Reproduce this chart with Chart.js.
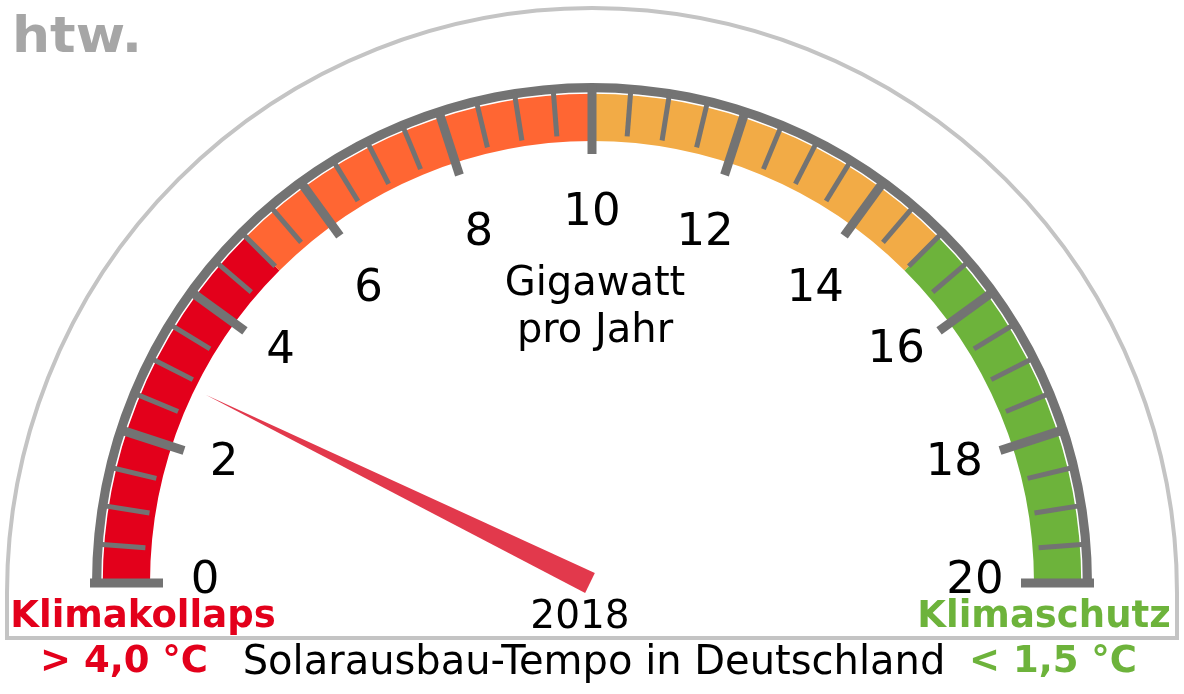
<!DOCTYPE html>
<html>
<head>
  <title>Solarausbau-Tempo in Deutschland</title>
  <script src="https://cdn.jsdelivr.net/npm/chart.js"></script>
  <style>
    body {
      margin: 0;
      background: #fff;
    }
    #gauge {
      display: block;
    }
  </style>
</head>
<body>
  <canvas id="gauge" width="1184" height="694"></canvas>

  <script>
    // scale and data
    const scaleMin = 0;
    const scaleMax = 20;
    const bandLabels = ['0-5', '5-10', '10-15', '15-20'];
    const bandValues = [5, 5, 5, 5];
    const bandColors = ['#e3001b', '#ff6633', '#f2ab46', '#6db33b'];
    const majorTicks = [0, 2, 4, 6, 8, 10, 12, 14, 16, 18, 20];
    const tickLabels = ['0', '2', '4', '6', '8', '10', '12', '14', '16', '18', '20'];
    const minorStep = 0.5;
    const needleValue = [2.9];
    const yearLabel = ['2018'];

    const grey = '#737373';
    const font = '"DejaVu Sans", Verdana, sans-serif';
    // label placement: distance from hub and small vertical nudge
    const labelRadius = [387, 387, 385, 380, 366, 368, 366, 380, 376, 381, 383];
    const labelNudge = [0, 2, -3, 16, 0, 0, 0, 16, -10, 0, 0];

    function valueToAngle(chart, v) {
      const arc = chart.getDatasetMeta(1).data[0];
      return arc.startAngle + (v - scaleMin) / (scaleMax - scaleMin) * Math.PI;
    }

    const gaugePlugin = {
      id: 'gaugeDecor',
      beforeDatasetsDraw(chart) {
        const ctx = chart.ctx;
        const arc = chart.getDatasetMeta(0).data[0];
        const cx = arc.x, cy = arc.y;

        // outer frame
        ctx.save();
        ctx.strokeStyle = '#c4c4c4';
        ctx.lineWidth = 4;
        ctx.beginPath();
        ctx.moveTo(cx - 585, 638);
        ctx.lineTo(cx - 585, cy + 10);
        ctx.arc(cx, cy + 10, 585, Math.PI, 2 * Math.PI);
        ctx.lineTo(cx + 585, 638);
        ctx.closePath();
        ctx.stroke();

        // logo
        ctx.fillStyle = '#a6a6a6';
        ctx.font = 'bold 50px ' + font;
        ctx.textAlign = 'left';
        ctx.textBaseline = 'alphabetic';
        ctx.translate(12, 52);
        ctx.scale(1.07, 1);
        ctx.fillText('htw.', 0, 0);
        ctx.restore();
      },
      afterDatasetsDraw(chart) {
        const ctx = chart.ctx;
        const arc = chart.getDatasetMeta(0).data[0];
        const cx = arc.x, cy = arc.y;
        const R = arc.outerRadius;

        ctx.save();
        // thin white line between band and grey rim
        ctx.strokeStyle = '#ffffff';
        ctx.lineWidth = 1.5;
        ctx.beginPath();
        ctx.arc(cx, cy, arc.innerRadius, Math.PI, 2 * Math.PI);
        ctx.stroke();

        // ticks
        ctx.strokeStyle = grey;
        ctx.lineCap = 'butt';
        for (let v = scaleMin; v <= scaleMax + 1e-9; v += minorStep) {
          const isMajor = majorTicks.includes(v);
          const a = valueToAngle(chart, v);
          const r1 = isMajor ? R - 71 : R - 52;
          const r2 = (v === scaleMin || v === scaleMax) ? R + 2 : R - 2;
          ctx.lineWidth = isMajor ? 9 : 5;
          ctx.beginPath();
          ctx.moveTo(cx + r1 * Math.cos(a), cy + r1 * Math.sin(a));
          ctx.lineTo(cx + r2 * Math.cos(a), cy + r2 * Math.sin(a));
          ctx.stroke();
        }

        // tick labels
        ctx.fillStyle = '#000';
        ctx.font = '45px ' + font;
        ctx.textAlign = 'center';
        ctx.textBaseline = 'middle';
        majorTicks.forEach((v, i) => {
          const a = valueToAngle(chart, v);
          const r = labelRadius[i];
          ctx.fillText(tickLabels[i], cx + r * Math.cos(a), cy + r * Math.sin(a) - 2 + labelNudge[i]);
        });

        ctx.font = '40px ' + font;
        ctx.fillText('Gigawatt', cx + 3, 285);
        ctx.fillText('pro Jahr', cx + 3, 332);

        // needle
        const na = valueToAngle(chart, needleValue[0]);
        const len = 428;
        const hw = 11;
        const bx = cx - 2, by = cy;
        ctx.fillStyle = '#e2394c';
        ctx.beginPath();
        ctx.moveTo(bx + hw * Math.cos(na + Math.PI / 2), by + hw * Math.sin(na + Math.PI / 2));
        ctx.lineTo(bx + hw * Math.cos(na - Math.PI / 2), by + hw * Math.sin(na - Math.PI / 2));
        ctx.lineTo(bx + len * Math.cos(na), by + len * Math.sin(na));
        ctx.closePath();
        ctx.fill();

        // bottom texts
        ctx.fillStyle = '#000';
        ctx.font = '39px ' + font;
        ctx.fillText(yearLabel[0], 580, 618);
        ctx.font = '40px ' + font;
        ctx.fillText('Solarausbau-Tempo in Deutschland', 594, 664);

        ctx.font = 'bold 37px ' + font;
        ctx.fillStyle = bandColors[0];
        ctx.fillText('Klimakollaps', 143, 617);
        ctx.fillText('> 4,0 °C', 124, 662);
        ctx.fillStyle = bandColors[3];
        ctx.fillText('Klimaschutz', 1044, 617);
        ctx.fillText('< 1,5 °C', 1053, 662);
        ctx.restore();
      }
    };

    const chart = new Chart(document.getElementById('gauge'), {
      type: 'doughnut',
      data: {
        labels: bandLabels,
        datasets: [{
          label: 'Rand',
          data: [scaleMax - scaleMin],
          backgroundColor: [grey],
          borderWidth: 0,
          weight: 10
        }, {
          label: 'Bereiche',
          data: bandValues,
          backgroundColor: bandColors,
          borderWidth: 0,
          weight: 48
        }]
      },
      options: {
        responsive: false,
        animation: false,
        rotation: -90,
        circumference: 180,
        cutout: '88.4%',
        layout: {
          padding: { left: 92, right: 92, top: 83, bottom: 111 }
        },
        plugins: {
          legend: { display: false },
          tooltip: { enabled: false }
        }
      },
      plugins: [gaugePlugin]
    });
  </script>
</body>
</html>
